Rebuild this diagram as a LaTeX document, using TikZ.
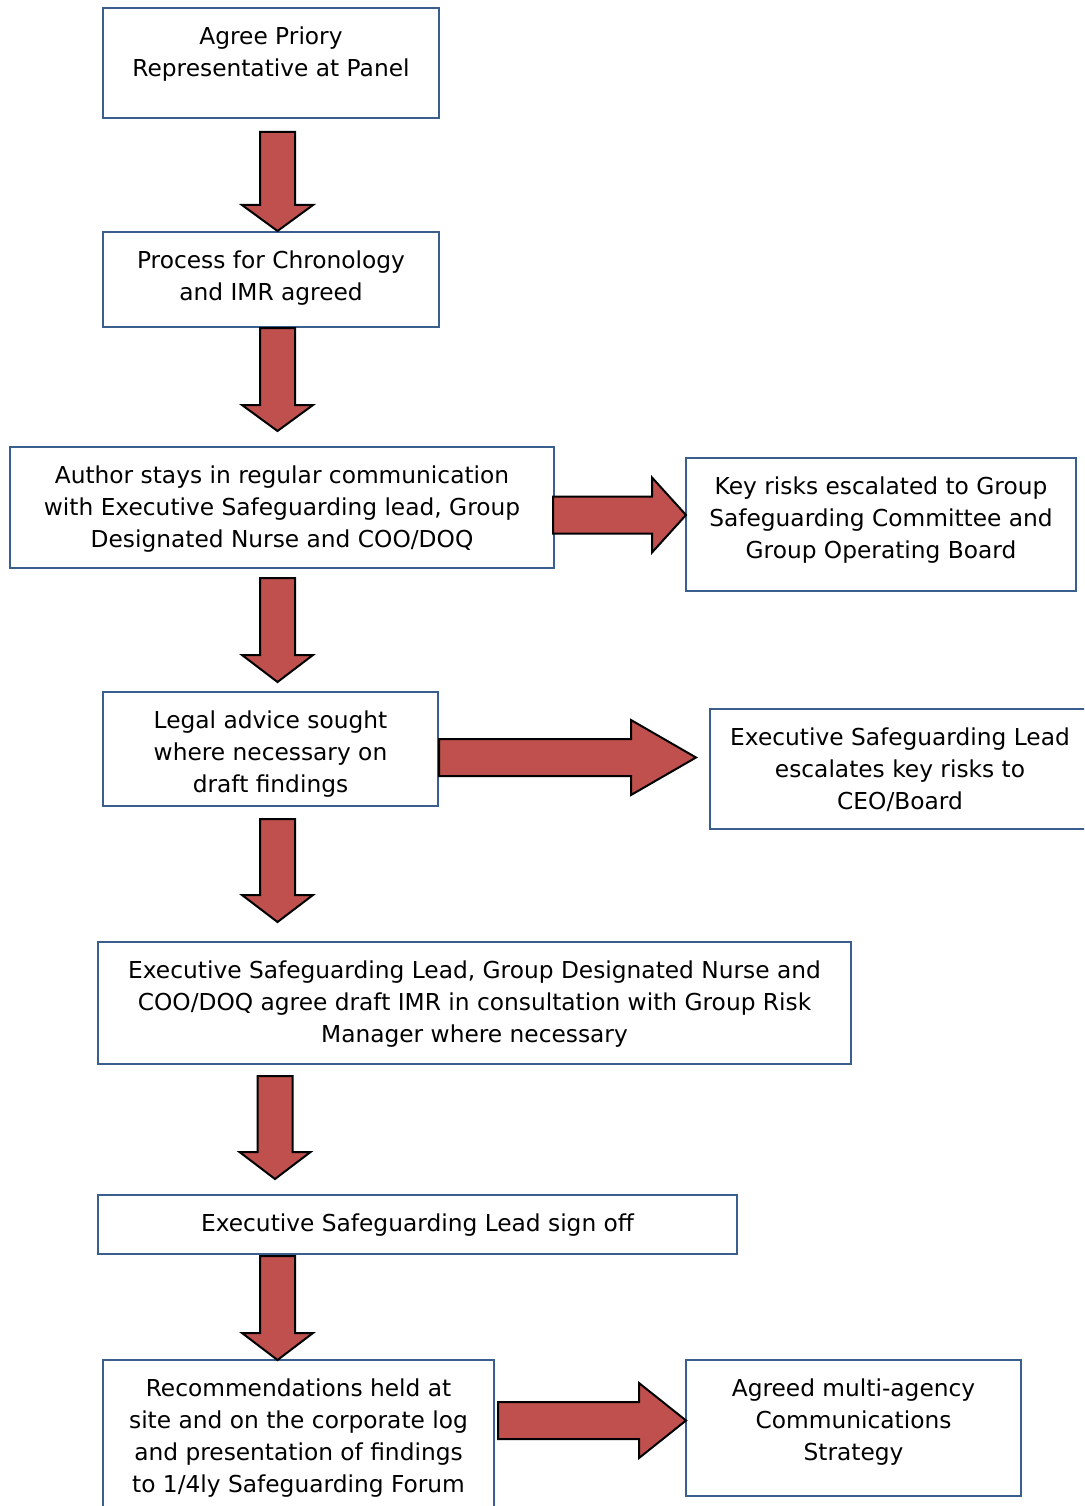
\documentclass[tikz,border=0pt]{standalone}
\usepackage{fontspec}
\setmainfont{DejaVu Sans}
\usetikzlibrary{calc}
\definecolor{boxblue}{HTML}{3A5F8F}
\definecolor{arrred}{HTML}{C0504D}
\tikzset{
  box/.style={draw=boxblue, line width=2pt, rectangle, inner sep=0pt},
  txt/.style={align=center, inner sep=0pt, anchor=north, font=\fontsize{23.3}{32}\selectfont},
  blockarrow/.style={fill=arrred, draw=black, line width=2pt, line join=miter}
}
% down block arrow: centre x, top y, tip y, head length
\newcommand{\bdown}[4]{%
  \draw[blockarrow] (#1-17.5,#2) -- (#1+17.5,#2) -- (#1+17.5,#3-#4) -- (#1+35.5,#3-#4)
    -- (#1,#3) -- (#1-35.5,#3-#4) -- (#1-17.5,#3-#4) -- cycle;}
% right block arrow: centre y, start x, tip x, head length
\newcommand{\bright}[4]{%
  \draw[blockarrow] (#2,#1-18.5) -- (#3-#4,#1-18.5) -- (#3-#4,#1-37.5) -- (#3,#1)
    -- (#3-#4,#1+37.5) -- (#3-#4,#1+18.5) -- (#2,#1+18.5) -- cycle;}
\begin{document}
\begin{tikzpicture}[x=1pt,y=-1pt]
\useasboundingbox (0,0) rectangle (1084,1506);
\clip (0,0) rectangle (1084,1506);
\fill[white] (0,0) rectangle (1084,1506);

% boxes
\node[box, minimum width=336pt, minimum height=110pt] (A) at (271,63) {};
\node[box, minimum width=336pt, minimum height=95pt] (B) at (271,279.5) {};
\node[box, minimum width=544pt, minimum height=121pt] (C) at (282,507.5) {};
\node[box, minimum width=390pt, minimum height=133pt] (D) at (881,524.5) {};
\node[box, minimum width=335pt, minimum height=114pt] (E) at (270.5,749) {};
\node[box, minimum width=380pt, minimum height=120pt] (F) at (900,769) {};
\node[box, minimum width=753pt, minimum height=122pt] (G) at (474.5,1003) {};
\node[box, minimum width=639pt, minimum height=59pt] (H) at (417.5,1224.5) {};
\node[box, minimum width=391pt, minimum height=150pt] (I) at (298.5,1435) {};
\node[box, minimum width=335pt, minimum height=136pt] (J) at (853.5,1428) {};

% texts
\node[txt] (tA) at ($(A.north)+(0,20)$) {Agree Priory\\Representative at Panel};
\node[txt] (tB) at ($(B.north)+(0,19.5)$) {Process for Chronology\\and IMR agreed};
\node[txt] (tC) at ($(C.north)+(0,19.5)$) {Author stays in regular communication\\with Executive Safeguarding lead, Group\\Designated Nurse and COO/DOQ};
\node[txt] (tD) at ($(D.north)+(0,19.5)$) {Key risks escalated to Group\\Safeguarding Committee and\\Group Operating Board};
\node[txt] (tE) at ($(E.north)+(0,20)$) {Legal advice sought\\where necessary on\\draft findings};
\node[txt] (tF) at ($(F.north)+(0,19.5)$) {Executive Safeguarding Lead\\escalates key risks to\\CEO/Board};
\node[txt] (tG) at ($(G.north)+(0,20)$) {Executive Safeguarding Lead, Group Designated Nurse and\\COO/DOQ agree draft IMR in consultation with Group Risk\\Manager where necessary};
\node[txt] (tH) at ($(H.north)+(0,19.5)$) {Executive Safeguarding Lead sign off};
\node[txt] (tI) at ($(I.north)+(0,20)$) {Recommendations held at\\site and on the corporate log\\and presentation of findings\\to 1/4ly Safeguarding Forum};
\node[txt] (tJ) at ($(J.north)+(0,20)$) {Agreed multi-agency\\Communications\\Strategy};

% down arrows
\bdown{277.5}{132}{231}{26}
\bdown{277.5}{328}{431}{26}
\bdown{277.5}{578}{682}{27}
\bdown{277.5}{819}{922}{27}
\bdown{275}{1076}{1179}{27}
\bdown{277.5}{1256}{1360}{27}

% right arrows
\bright{515}{553}{686}{34}
\bright{757.5}{439}{696}{65}
\bright{1420.5}{498}{686}{47}
\end{tikzpicture}
\end{document}
